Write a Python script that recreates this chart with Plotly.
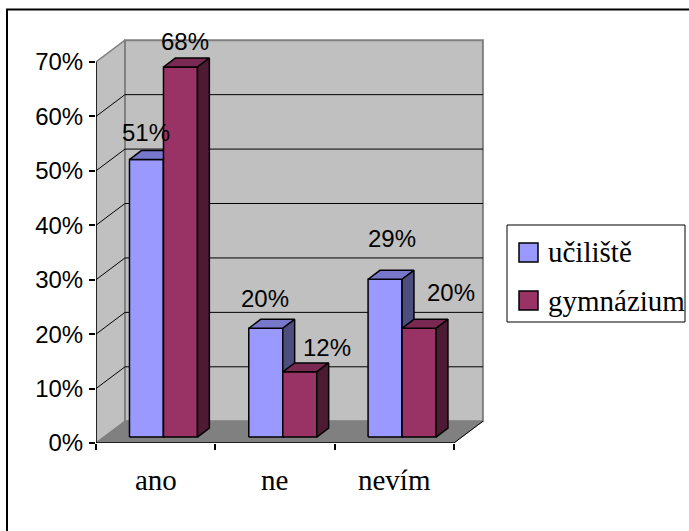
import plotly.graph_objects as go

# ---- data -------------------------------------------------------------
categories = ["ano", "ne", "nevím"]
series_names = ["učiliště", "gymnázium"]
uciliste_values = [51, 20, 29]
gymnazium_values = [68, 12, 20]
y_tick_values = [0, 10, 20, 30, 40, 50, 60, 70]

# ---- styling ----------------------------------------------------------
front_colors = ["#9999FF", "#993366"]
top_colors = ["#7777CC", "#7A2952"]
side_colors = ["#4D4D80", "#4D1A33"]
WALL = "#C0C0C0"
FLOOR = "#808080"
EDGE = "#808080"
SANS = "Arial, Liberation Sans, sans-serif"
SERIF = "Times New Roman, Liberation Serif, serif"

# label nudges (category units, percent points) relative to each bar top
label_nudge = [
    [(0.00, 6.1), (-0.01, 6.6), (0.06, 8.5)],
    [(0.04, 5.7), (0.23, 5.6), (0.27, 7.6)],
]

# pseudo-3D projection: full depth of the box in axis units
DX, DY = 0.243, 4.0
F0, F1 = 0.27, 0.68          # bar front / back depth fractions
BAR_W = 0.285
Y_TOP = y_tick_values[-1]
N = len(categories)

# pixel layout of the plot area
W, H = 689, 531
L, R, T, B = 96, 199, 29, 88
UX, UY = 119.3, 5.443        # px per category / per percent
x_range = [0, (W - L - R) / UX]
y_range = [0, (H - T - B) / UY]


def px_x(p):
    return (p - L) / (W - L - R)


def px_y(p):
    return (H - B - p) / (H - T - B)


def poly_trace(polys, fill, line_color, line_width):
    xs, ys = [], []
    for poly in polys:
        for (a, b) in poly + [poly[0]]:
            xs.append(a)
            ys.append(b)
        xs.append(None)
        ys.append(None)
    return go.Scatter(x=xs, y=ys, mode="lines", fill="toself", fillcolor=fill,
                      line=dict(color=line_color, width=line_width),
                      hoverinfo="skip", showlegend=False)


def line_trace(segs, color, width):
    xs, ys = [], []
    for (a, b), (c, d) in segs:
        xs += [a, c, None]
        ys += [b, d, None]
    return go.Scatter(x=xs, y=ys, mode="lines", line=dict(color=color, width=width),
                      hoverinfo="skip", showlegend=False)


fig = go.Figure()

# walls and floor
fig.add_trace(poly_trace([[(0, 0), (DX, DY), (DX, Y_TOP + DY), (0, Y_TOP)]], WALL, EDGE, 1.5))
fig.add_trace(poly_trace([[(DX, DY), (N + DX, DY), (N + DX, Y_TOP + DY), (DX, Y_TOP + DY)]], WALL, EDGE, 2))
fig.add_trace(poly_trace([[(0, 0), (N, 0), (N + DX, DY), (DX, DY)]], FLOOR, FLOOR, 1))

# gridlines on the back wall and their diagonals on the side wall
grid = []
for k in y_tick_values[1:-1]:
    grid.append(((DX, k + DY), (N + DX, k + DY)))
    grid.append(((0, k), (DX, k + DY)))
grid.append(((N, 0), (N + DX, DY)))
fig.add_trace(line_trace(grid, "black", 1))

# bars
sx0, sy0, sx1, sy1 = F0 * DX, F0 * DY, F1 * DX, F1 * DY
annotations = []
for s, values in enumerate([uciliste_values, gymnazium_values]):
    fronts, tops, sides = [], [], []
    for i, v in enumerate(values):
        xl = i + 0.5 + (s - 1) * BAR_W
        xr = xl + BAR_W
        fronts.append([(xl + sx0, sy0), (xr + sx0, sy0), (xr + sx0, v + sy0), (xl + sx0, v + sy0)])
        tops.append([(xl + sx0, v + sy0), (xr + sx0, v + sy0), (xr + sx1, v + sy1), (xl + sx1, v + sy1)])
        sides.append([(xr + sx0, sy0), (xr + sx1, sy1), (xr + sx1, v + sy1), (xr + sx0, v + sy0)])
        ndx, ndy = label_nudge[s][i]
        annotations.append(dict(
            x=(xl + xr) / 2 + sx0 + ndx, y=v + ndy, xref="x", yref="y",
            text=f"{v}%", showarrow=False, xanchor="center", yanchor="middle",
            font=dict(family=SANS, size=24, color="black")))
    fig.add_trace(poly_trace(fronts, front_colors[s], "black", 1.5))
    fig.add_trace(poly_trace(tops, top_colors[s], "black", 1.5))
    fig.add_trace(poly_trace(sides, side_colors[s], "black", 1.5))

# front axis lines
fig.add_trace(line_trace([((0, 0), (0, Y_TOP)), ((0, 0), (N, 0))], "black", 1.5))

# category labels
for i, c in enumerate(categories):
    annotations.append(dict(
        x=i + 0.5, y=0, xref="x", yref="y", yshift=-37, text=c, showarrow=False,
        xanchor="center", yanchor="middle",
        font=dict(family=SERIF, size=29, color="black")))

# frame and legend
shapes = [
    dict(type="rect", xref="paper", yref="paper", x0=px_x(7), x1=px_x(700),
         y0=px_y(545), y1=px_y(9.5), line=dict(color="black", width=2), layer="below"),
    dict(type="rect", xref="paper", yref="paper", x0=px_x(507), x1=px_x(685),
         y0=px_y(322), y1=px_y(225), line=dict(color="black", width=1), fillcolor="white"),
]
for s, name in enumerate(series_names):
    cy = 252.5 + 48 * s
    shapes.append(dict(type="rect", xref="paper", yref="paper", x0=px_x(519), x1=px_x(538),
                       y0=px_y(cy + 9.5), y1=px_y(cy - 9.5),
                       line=dict(color="black", width=1.5), fillcolor=front_colors[s]))
    annotations.append(dict(
        x=px_x(546), y=px_y(cy), xref="paper", yref="paper", text=name, showarrow=False,
        xanchor="left", yanchor="middle",
        font=dict(family=SERIF, size=29, color="black")))

fig.update_layout(
    width=W, height=H, autosize=False,
    margin=dict(l=L, r=R, t=T, b=B),
    paper_bgcolor="white", plot_bgcolor="white",
    showlegend=False,
    shapes=shapes, annotations=annotations,
    xaxis=dict(range=x_range, showgrid=False, zeroline=False, showline=False,
               tickmode="array", tickvals=list(range(N + 1)), ticktext=[""] * (N + 1),
               ticks="outside", ticklen=6, tickwidth=1.5, tickcolor="black", fixedrange=True),
    yaxis=dict(range=y_range, showgrid=False, zeroline=False, showline=False,
               tickmode="array", tickvals=y_tick_values,
               ticktext=[f"{v}%" for v in y_tick_values],
               ticks="outside", ticklen=6, tickwidth=1.5, tickcolor="black",
               ticklabelstandoff=1,
               tickfont=dict(family=SANS, size=24, color="black"),
               fixedrange=True),
)

fig.write_html("out.html")
